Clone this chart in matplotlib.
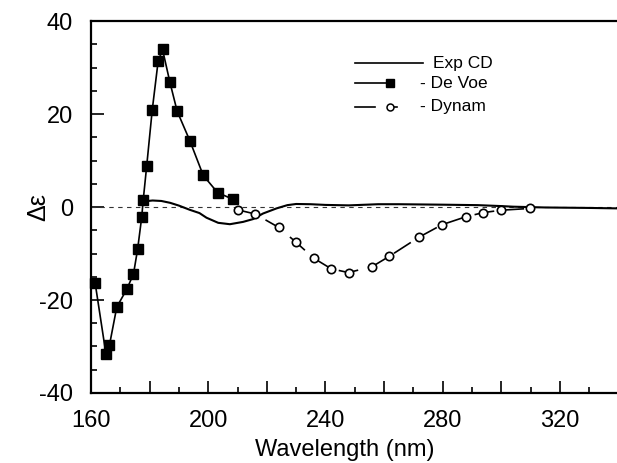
import matplotlib
matplotlib.use("Agg")
import matplotlib.pyplot as plt
from matplotlib.ticker import MultipleLocator, FuncFormatter

plt.rcParams['font.family'] = ['Liberation Sans', 'DejaVu Sans']
plt.rcParams['axes.unicode_minus'] = False

# Experimental CD
exp_nm = [179.5, 181, 184, 187, 190, 193.7, 197, 199.4, 203.4, 207.4, 211.9, 215.3,
          218.7, 223.3, 227, 230, 235, 240, 248, 258, 265, 280, 292, 300, 304, 315, 330, 340]
exp_val = [1.3, 1.4, 1.3, 0.9, 0.3, -0.6, -1.3, -2.3, -3.4, -3.7, -3.2, -2.6,
           -1.4, -0.3, 0.4, 0.65, 0.6, 0.45, 0.35, 0.6, 0.6, 0.5, 0.4, 0.2, 0.07, -0.1, -0.2, -0.3]

# De Voe calculation
devoe_nm = [161.4, 165.1, 166.3, 168.8, 172.2, 174.5, 175.9, 177.3, 177.8, 179.0,
            180.9, 182.9, 184.4, 186.9, 189.4, 193.7, 198.3, 203.2, 208.3]
devoe_val = [-16.3, -31.6, -29.7, -21.5, -17.7, -14.4, -9.1, -2.2, 1.4, 8.8,
             20.9, 31.3, 33.9, 26.9, 20.6, 14.3, 6.8, 3.1, 1.7]

# Dynamic calculation
dynam_nm = [210.0, 216.0, 224.1, 230.0, 236.0, 242.0, 247.9, 256.0, 261.8,
            271.9, 279.8, 287.9, 293.9, 299.8, 309.9]
dynam_val = [-0.6, -1.5, -4.4, -7.6, -11.0, -13.3, -14.1, -12.8, -10.6,
             -6.5, -3.8, -2.1, -1.2, -0.7, -0.3]

xticks_labeled = [160, 200, 240, 280, 320]
yticks = [-40, -20, 0, 20, 40]

fig = plt.figure(figsize=(6.17, 4.63), dpi=100)
ax = fig.add_axes([0.1475, 0.1512, 0.8525, 0.8034])

ax.axhline(0, color='#333333', lw=0.8, dashes=(4, 4))
ax.plot(exp_nm, exp_val, color='black', lw=1.5)
ax.plot(devoe_nm, devoe_val, color='black', lw=1.2, marker='s', ms=7,
        mfc='black', mec='black', clip_on=False)
ax.plot(dynam_nm, dynam_val, color='black', lw=1.2, dashes=(12, 6), marker='o',
        ms=6, mfc='white', mec='black', mew=1.2)

ax.set_xlim(160, 339.5)
ax.set_ylim(-40, 40)
ax.xaxis.set_major_locator(MultipleLocator(20))
ax.xaxis.set_minor_locator(MultipleLocator(10))
ax.xaxis.set_major_formatter(FuncFormatter(
    lambda v, p: f"{int(round(v))}" if int(round(v)) in xticks_labeled else ""))
ax.set_yticks(yticks)
ax.yaxis.set_minor_locator(MultipleLocator(5))

ax.tick_params(which='both', direction='in', width=1.2, labelsize=17)
ax.tick_params(which='major', length=9)
ax.tick_params(which='minor', length=4.5)
ax.tick_params(axis='x', which='major', pad=12)
ax.tick_params(axis='y', which='major', pad=13)

for s in ['left', 'bottom', 'top']:
    ax.spines[s].set_linewidth(1.6)
ax.spines['right'].set_visible(False)

ax.set_xlabel('Wavelength (nm)', fontsize=17)
ax.xaxis.set_label_coords(0.483, -0.125)
ax.set_ylabel('Δε', fontsize=18)
ax.yaxis.set_label_coords(-0.078, 0.5)

# legend drawn manually
T = ax.transAxes
ax.plot([0.502, 0.631], [0.887, 0.887], color='black', lw=1.2, transform=T)
ax.text(0.650, 0.887, 'Exp CD', transform=T, fontsize=12.5, va='center', ha='left')
ax.plot([0.502, 0.568], [0.833, 0.833], color='black', lw=1.2, transform=T)
ax.plot([0.568], [0.833], marker='s', ms=6, color='black', transform=T)
ax.text(0.625, 0.833, '- De Voe', transform=T, fontsize=12.5, va='center', ha='left')
ax.plot([0.502, 0.540], [0.769, 0.769], color='black', lw=1.2, transform=T)
ax.plot([0.568, 0.582], [0.769, 0.769], color='black', lw=1.2, transform=T)
ax.plot([0.568], [0.769], marker='o', ms=5, mfc='white', mec='black', mew=1.1, transform=T)
ax.text(0.625, 0.769, '- Dynam', transform=T, fontsize=12.5, va='center', ha='left')

fig.savefig('out.png', dpi=100)
